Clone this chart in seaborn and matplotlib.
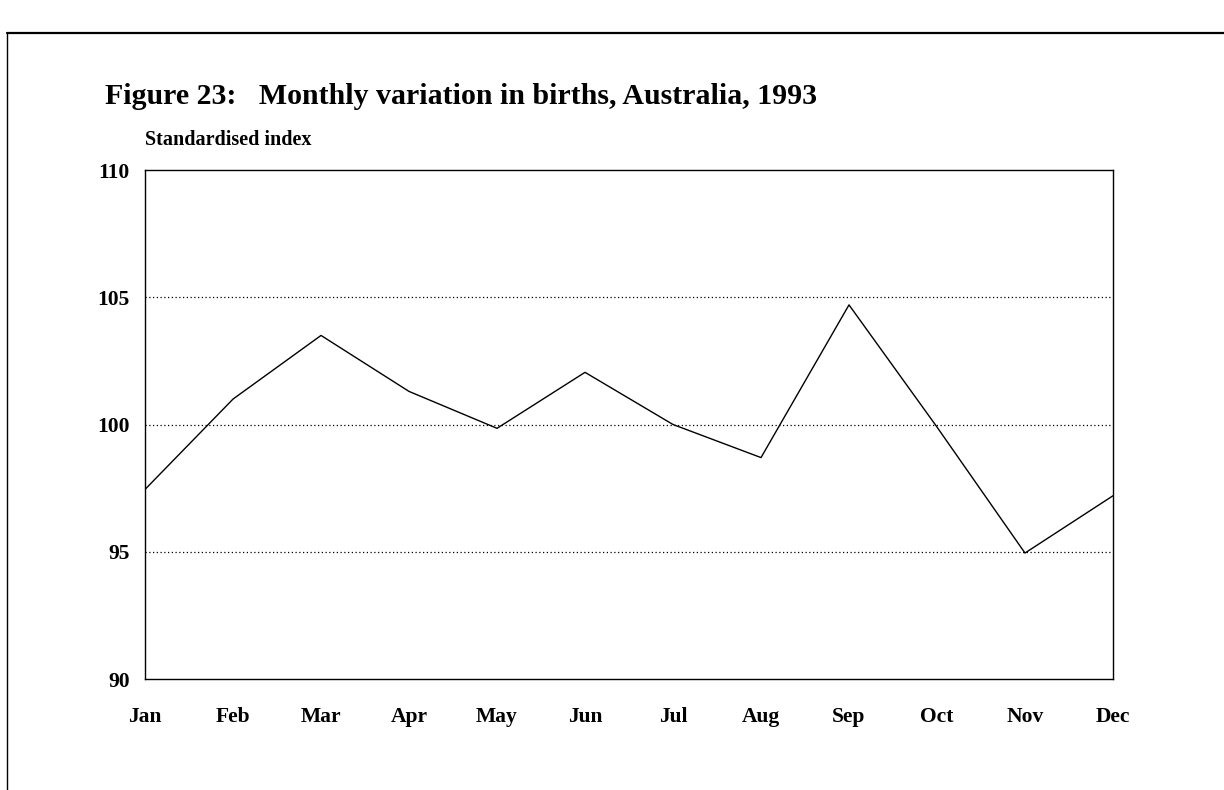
import pandas as pd
import seaborn as sns
import matplotlib.pyplot as plt
from matplotlib.lines import Line2D

months = ['Jan', 'Feb', 'Mar', 'Apr', 'May', 'Jun', 'Jul', 'Aug', 'Sep', 'Oct', 'Nov', 'Dec']
index_values = [97.45, 101.0, 103.5, 101.3, 99.85, 102.05, 100.0, 98.7, 104.7, 99.9, 94.95, 97.2]
y_ticks = [90, 95, 100, 105, 110]

df = pd.DataFrame({'month': months, 'index': index_values})
df['pos'] = range(len(months))

sns.set_style('white')
plt.rcParams['font.family'] = ['Liberation Serif', 'DejaVu Serif']
plt.rcParams['text.color'] = 'black'

fig = plt.figure(figsize=(12.24, 7.90), dpi=100)
ax = fig.add_axes([0.1185, 0.1405, 0.7908, 0.6443])

sns.lineplot(data=df, x='pos', y='index', ax=ax, color='black', linewidth=1.0)

ax.set_xlim(0, len(months) - 1)
ax.set_ylim(90, 110)
ax.set_xticks(df['pos'])
ax.set_xticklabels(months, fontsize=15.5, fontweight='bold')
ax.set_yticks(y_ticks)
ax.set_yticklabels([str(t) for t in y_ticks], fontsize=15.5, fontweight='bold')
ax.tick_params(axis='x', direction='out', length=6, width=0.8, pad=14, colors='black')
ax.tick_params(axis='y', direction='out', length=8, width=0.8, pad=3, colors='black')
ax.set_xlabel('')
ax.set_ylabel('')

for v in [95, 100, 105]:
    ax.axhline(v, color='black', linestyle=(0, (1, 2)), linewidth=0.9, zorder=0)

for side in ['left', 'bottom', 'top', 'right']:
    ax.spines[side].set_visible(True)
    ax.spines[side].set_color('black')
    ax.spines[side].set_linewidth(1.0)

fig.text(0.086, 0.868, 'Figure 23:   Monthly variation in births, Australia, 1993',
         fontsize=21.5, fontweight='bold', ha='left', va='baseline', color='black')
fig.text(0.1185, 0.816, 'Standardised index', fontsize=14.5, fontweight='bold',
         ha='left', va='baseline', color='black')

# page frame (left and top edges only)
fig.add_artist(Line2D([0.006, 0.006], [0.0, 0.958], transform=fig.transFigure, color='black', linewidth=1.0))
fig.add_artist(Line2D([0.006, 1.0], [0.958, 0.958], transform=fig.transFigure, color='black', linewidth=1.6))

plt.savefig('out.png', dpi=100)
